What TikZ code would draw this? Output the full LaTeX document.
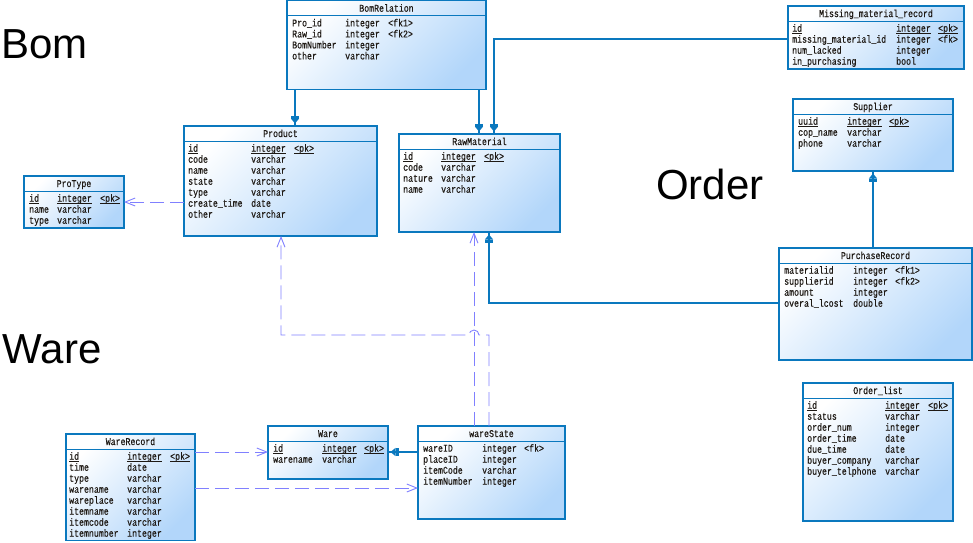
\documentclass[tikz,border=0pt]{standalone}
\usepackage{fontspec}
\usetikzlibrary{arrows.meta}
\newfontfamily\erfontfam[FakeStretch=0.8,FakeBold=0.4]{Liberation Mono}
\newfontfamily\bigfam{Liberation Sans}
\newcommand\erfont{\erfontfam\fontsize{10.3}{11}\selectfont}
\newcommand\bigfont{\bigfam\fontsize{42}{48}\selectfont}
\newcommand\ul[1]{\leavevmode\setbox0\hbox{#1}\rlap{\rule[-1.4pt]{\wd0}{0.6pt}}\box0}
\definecolor{erblue}{RGB}{10,120,190}
\definecolor{erfill}{RGB}{178,214,250}
\definecolor{depcol}{RGB}{128,128,255}
\definecolor{ertext}{RGB}{30,25,20}
\tikzset{
  erbox/.style={draw=erblue, line width=1.2pt, top color=white, bottom color=erfill,
    shading angle=45, anchor=north west, inner sep=0pt, outer sep=0pt},
  ersep/.style={draw=erblue, line width=0.8pt},
  ertitle/.style={font=\erfont, text=ertext, anchor=base, inner sep=0pt},
  erbody/.style={font=\erfont, text=ertext, anchor=north west, inner sep=0pt},
  fkline/.style={draw=erblue, line width=1.1pt,
    postaction={draw=erblue, shorten >=2.5pt,
      -{Rectangle[length=3pt,width=8pt]Triangle[length=5pt,width=8pt]}}},
  depline/.style={draw=depcol, line width=0.9pt, dash pattern=on 14pt off 6pt,
    -{Straight Barb[length=10pt,width=8pt,line width=0.9pt]}},
  biglabel/.style={font=\bigfont, anchor=base west, inner sep=0pt},
}
\begin{document}
\begin{tikzpicture}[x=1pt,y=-1pt]
\useasboundingbox (0,0) rectangle (973,542);

% big labels
\node[biglabel] (lbom) at (1,58) {Bom};
\node[biglabel] (lorder) at (656,199) {Order};
\node[biglabel] (lware) at (2.5,363) {Ware};

% BomRelation
\node[erbox, minimum width=199pt, minimum height=88.5pt] (bom) at (287,0.7) {};
\draw[ersep] ([yshift=-15pt]bom.north west) -- ([yshift=-15pt]bom.north east);
\node[ertitle] (bomt) at ([yshift=-11pt]bom.north) {BomRelation};
\node[erbody] (bomb) at (292,18.5) {\begin{tabular}{@{}p{53pt}@{}p{43pt}@{}l@{}}
Pro\_id & integer & <fk1>\\
Raw\_id & integer & <fk2>\\
BomNumber & integer & \\
other & varchar &
\end{tabular}};

% Product
\node[erbox, minimum width=193pt, minimum height=110pt] (prod) at (184,126) {};
\draw[ersep] ([yshift=-15pt]prod.north west) -- ([yshift=-15pt]prod.north east);
\node[ertitle] (prodt) at ([yshift=-11pt]prod.north) {Product};
\node[erbody] (prodb) at (188,143.8) {\begin{tabular}{@{}p{63pt}@{}p{43pt}@{}l@{}}
\ul{id} & \ul{integer} & \ul{<pk>}\\
code & varchar & \\
name & varchar & \\
state & varchar & \\
type & varchar & \\
create\_time & date & \\
other & varchar &
\end{tabular}};

% RawMaterial
\node[erbox, minimum width=161pt, minimum height=98pt] (raw) at (399,134) {};
\draw[ersep] ([yshift=-15pt]raw.north west) -- ([yshift=-15pt]raw.north east);
\node[ertitle] (rawt) at ([yshift=-11pt]raw.north) {RawMaterial};
\node[erbody] (rawb) at (403,151.8) {\begin{tabular}{@{}p{38pt}@{}p{43pt}@{}l@{}}
\ul{id} & \ul{integer} & \ul{<pk>}\\
code & varchar & \\
nature & varchar & \\
name & varchar &
\end{tabular}};

% ProType
\node[erbox, minimum width=100pt, minimum height=52pt] (ptype) at (24,176) {};
\draw[ersep] ([yshift=-15pt]ptype.north west) -- ([yshift=-15pt]ptype.north east);
\node[ertitle] (ptypet) at ([yshift=-11pt]ptype.north) {ProType};
\node[erbody] (ptypeb) at (29,193.8) {\begin{tabular}{@{}p{28pt}@{}p{43pt}@{}l@{}}
\ul{id} & \ul{integer} & \ul{<pk>}\\
name & varchar & \\
type & varchar &
\end{tabular}};

% Missing_material_record
\node[erbox, minimum width=176pt, minimum height=63pt] (miss) at (788,6) {};
\draw[ersep] ([yshift=-15pt]miss.north west) -- ([yshift=-15pt]miss.north east);
\node[ertitle] (misst) at ([yshift=-11pt]miss.north) {Missing\_material\_record};
\node[erbody] (missb) at (792,23.8) {\begin{tabular}{@{}p{104pt}@{}p{42pt}@{}l@{}}
\ul{id} & \ul{integer} & \ul{<pk>}\\
missing\_material\_id & integer & <fk>\\
num\_lacked & integer & \\
in\_purchasing & bool &
\end{tabular}};

% Supplier
\node[erbox, minimum width=160pt, minimum height=72pt] (sup) at (793,99) {};
\draw[ersep] ([yshift=-15pt]sup.north west) -- ([yshift=-15pt]sup.north east);
\node[ertitle] (supt) at ([yshift=-11pt]sup.north) {Supplier};
\node[erbody] (supb) at (798,116.8) {\begin{tabular}{@{}p{49pt}@{}p{42pt}@{}l@{}}
\ul{uuid} & \ul{integer} & \ul{<pk>}\\
cop\_name & varchar & \\
phone & varchar &
\end{tabular}};

% PurchaseRecord
\node[erbox, minimum width=193pt, minimum height=112pt] (pur) at (779,248) {};
\draw[ersep] ([yshift=-15pt]pur.north west) -- ([yshift=-15pt]pur.north east);
\node[ertitle] (purt) at ([yshift=-11pt]pur.north) {PurchaseRecord};
\node[erbody] (purb) at (784,265.8) {\begin{tabular}{@{}p{69pt}@{}p{42pt}@{}l@{}}
materialid & integer & <fk1>\\
supplierid & integer & <fk2>\\
amount & integer & \\
overal\_lcost & double &
\end{tabular}};

% Order_list
\node[erbox, minimum width=150pt, minimum height=138pt] (ord) at (803,383) {};
\draw[ersep] ([yshift=-15pt]ord.north west) -- ([yshift=-15pt]ord.north east);
\node[ertitle] (ordt) at ([yshift=-11pt]ord.north) {Order\_list};
\node[erbody] (ordb) at (807,400.8) {\begin{tabular}{@{}p{78pt}@{}p{43pt}@{}l@{}}
\ul{id} & \ul{integer} & \ul{<pk>}\\
status & varchar & \\
order\_num & integer & \\
order\_time & date & \\
due\_time & date & \\
buyer\_company & varchar & \\
buyer\_telphone & varchar &
\end{tabular}};

% WareRecord
\node[erbox, minimum width=129pt, minimum height=106.5pt] (wrec) at (66,434) {};
\draw[ersep] ([yshift=-15pt]wrec.north west) -- ([yshift=-15pt]wrec.north east);
\node[ertitle] (wrect) at ([yshift=-11pt]wrec.north) {WareRecord};
\node[erbody] (wrecb) at (69,451.8) {\begin{tabular}{@{}p{58pt}@{}p{43pt}@{}l@{}}
\ul{id} & \ul{integer} & \ul{<pk>}\\
time & date & \\
type & varchar & \\
warename & varchar & \\
wareplace & varchar & \\
itemname & varchar & \\
itemcode & varchar & \\
itemnumber & integer &
\end{tabular}};

% Ware
\node[erbox, minimum width=120pt, minimum height=53pt] (ware) at (268,426) {};
\draw[ersep] ([yshift=-15pt]ware.north west) -- ([yshift=-15pt]ware.north east);
\node[ertitle] (waret) at ([yshift=-11pt]ware.north) {Ware};
\node[erbody] (wareb) at (273,443.8) {\begin{tabular}{@{}p{49pt}@{}p{42pt}@{}l@{}}
\ul{id} & \ul{integer} & \ul{<pk>}\\
warename & varchar &
\end{tabular}};

% wareState
\node[erbox, minimum width=147pt, minimum height=93pt] (wst) at (418,426) {};
\draw[ersep] ([yshift=-15pt]wst.north west) -- ([yshift=-15pt]wst.north east);
\node[ertitle] (wstt) at ([yshift=-11pt]wst.north) {wareState};
\node[erbody] (wstb) at (423,443.8) {\begin{tabular}{@{}p{59pt}@{}p{42pt}@{}l@{}}
wareID & integer & <fk>\\
placeID & integer & \\
itemCode & varchar & \\
itemNumber & integer &
\end{tabular}};

% solid foreign key connectors
\draw[fkline] ([xshift=8pt]bom.south west) -- ([xshift=8pt]bom.south west |- prod.north);
\draw[fkline] ([xshift=192pt]bom.south west) -- ([xshift=192pt]bom.south west |- raw.north);
\draw[fkline] ([yshift=-33pt]miss.north west) -| ([xshift=95pt]raw.north west);
\draw[fkline] ([xshift=94pt]pur.north west) -- ([xshift=94pt]pur.north west |- sup.south);
\draw[fkline] ([yshift=-55pt]pur.north west) -| ([xshift=90pt]raw.south west);
\draw[fkline] ([yshift=-26pt]wst.north west) -- ([yshift=-26pt]wst.north west -| ware.east);

% dashed dependency connectors
\draw[depline] ([yshift=-76pt]prod.north west) -- ([yshift=-76pt]prod.north west -| ptype.east);
\draw[depline] ([xshift=56pt]wst.north west) -- ([xshift=56pt]wst.north west |- raw.south);
\draw[depline] ([xshift=71pt]wst.north west) -- (489,335) -- (479,335)
  arc[start angle=0, end angle=-180, radius=5] -- (281,335) -- ([xshift=97pt]prod.south west);
\draw[depline] ([yshift=-18pt]wrec.north east) -- ([yshift=-18pt]wrec.north east -| ware.west);
\draw[depline] ([yshift=-54pt]wrec.north east) -- ([yshift=-54pt]wrec.north east -| wst.west);
\end{tikzpicture}
\end{document}
